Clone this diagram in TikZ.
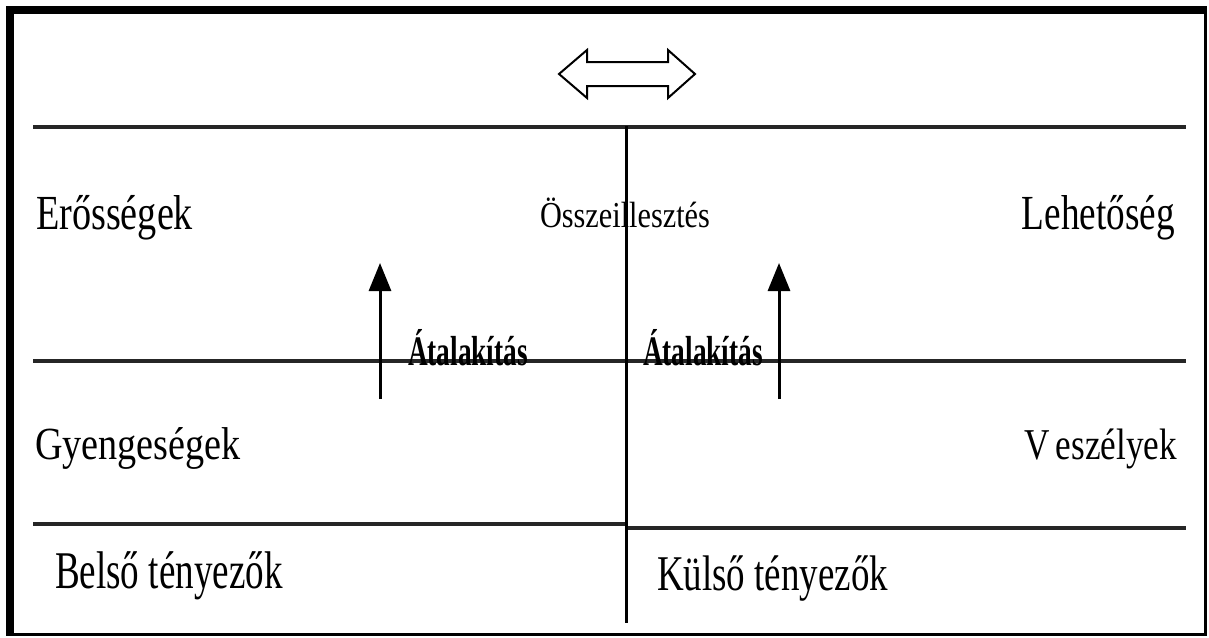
\documentclass[tikz,border=0pt]{standalone}
\usepackage{fontspec}
\setmainfont{Liberation Serif}
\usetikzlibrary{arrows.meta}
\tikzset{
  lbl/.style={inner sep=0pt, outer sep=0pt},
  rule/.style={line width=4pt, draw=black!85},
  vline/.style={line width=3pt, draw=black},
  uparrow/.style={line width=3pt, -{Triangle[length=28pt,width=22pt]}},
}
\begin{document}
\begin{tikzpicture}[x=1pt,y=-1pt]
\useasboundingbox (0,0) rectangle (1209,637);
\fill[white] (0,0) rectangle (1209,637);
% frame
\fill[black] (6,6) rectangle (14,636);
\fill[black] (6,6) rectangle (1207,14);
\fill[black] (1204,6) rectangle (1207,636);
\fill[black] (6,633) rectangle (1207,636);
% double arrow
\draw[line width=2pt, line join=miter, fill=white] (559,74) -- (587,50) -- (587,62) -- (668,62) -- (668,50) -- (695,74) -- (668,98) -- (668,86) -- (587,86) -- (587,98) -- cycle;
% rules
\coordinate (tl) at (33,127); \coordinate (tr) at (1186,127);
\coordinate (ml) at (33,361); \coordinate (mr) at (1186,361);
\coordinate (bl) at (33,524); \coordinate (bm) at (626,524);
\coordinate (bm2) at (626,528); \coordinate (br) at (1186,528);
\coordinate (vt) at (626,126); \coordinate (vb) at (626,623);
\draw[rule] (tl) -- (tr);
\draw[rule] (ml) -- (mr);
\draw[rule] (bl) -- (bm);
\draw[rule] (bm2) -- (br);
\draw[vline] (vt) -- (vb);
% arrows
\coordinate (a1s) at (380,399); \coordinate (a1e) at (380,263);
\coordinate (a2s) at (779,399); \coordinate (a2e) at (779,263);
\draw[uparrow] (a1s) -- (a1e);
\draw[uparrow] (a2s) -- (a2e);
% labels
\node[lbl, anchor=base west, xscale=0.78, font=\fontsize{49}{49}\selectfont] (eros) at (36,229) {Erősségek};
\node[lbl, anchor=base east, xscale=0.76, font=\fontsize{49}{49}\selectfont] (lehet) at (1175,229) {Lehetőség};
\node[lbl, anchor=base west, xscale=0.83, font=\fontsize{36.5}{36.5}\selectfont] (ossze) at (540,227) {Összeillesztés};
\node[lbl, anchor=base west, xscale=0.83, font=\fontsize{46}{46}\selectfont] (gyenge) at (35,459) {Gyengeségek};
\node[lbl, anchor=base east, xscale=0.8, font=\fontsize{44}{44}\selectfont] (vesz) at (1177,459) {V\kern8pt eszélyek};
\node[lbl, anchor=base west, xscale=0.70, font=\fontsize{53}{53}\selectfont] (belso) at (55,588) {Belső tényezők};
\node[lbl, anchor=base west, xscale=0.74, font=\fontsize{50}{50}\selectfont] (kulso) at (657,590) {Külső tényezők};
\node[lbl, anchor=base west, xscale=0.65, font=\fontsize{42}{42}\selectfont\bfseries] (atal1) at (408,365) {Átalakítás};
\node[lbl, anchor=base west, xscale=0.65, font=\fontsize{42}{42}\selectfont\bfseries] (atal2) at (643,365) {Átalakítás};
\end{tikzpicture}
\end{document}
